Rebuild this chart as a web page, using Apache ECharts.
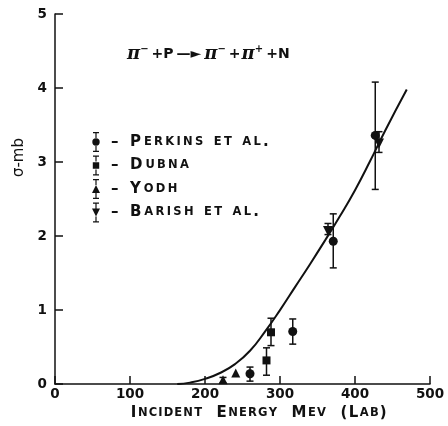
<!DOCTYPE html>
<html>
<head>
<meta charset="utf-8">
<script src="https://cdn.jsdelivr.net/npm/echarts@6/dist/echarts.min.js"></script>
<style>
  html, body { margin: 0; padding: 0; background: #fff; }
  #chart { width: 448px; height: 426px; }
</style>
</head>
<body>
<div id="chart"></div>
<script>
// values: [energy MeV, sigma mb, low, high]
const perkins = [[260, 0.14, 0.04, 0.23], [317, 0.71, 0.54, 0.88], [371, 1.93, 1.57, 2.30], [427, 3.36, 2.63, 4.08]];
const dubna = [[282, 0.32, 0.12, 0.49], [288, 0.70, 0.52, 0.89]];
const yodh = [[224, 0.06, 0.02, 0.09], [241, 0.15, 0.15, 0.15]];
const barish = [[364, 2.07, 2.02, 2.17], [432, 3.25, 3.13, 3.41]];
const theory = [[163, 0], [180, 0.02], [200, 0.07], [220, 0.15], [240, 0.27], [260, 0.45], [280, 0.71],
  [300, 1.00], [320, 1.31], [340, 1.62], [360, 1.94], [380, 2.27], [400, 2.62], [420, 3.01], [440, 3.42], [469, 3.98]];
const xTicks = [0, 100, 200, 300, 400, 500];
const yTicks = [0, 1, 2, 3, 4, 5];

const FONT = 'DejaVu Sans';
const ink = '#111';
const THIN = '\u2009';
const HAIR = '\u200A';

// turn "Perkins et al." into letter-spaced small caps rich text
function smallCaps(text, gap) {
  let out = '';
  let cur = '';
  let mode = '';
  for (const ch of text) {
    const m = (ch >= 'a' && ch <= 'z') ? 'b' : 'a';
    if (m !== mode && cur) { out += `{${mode}|${cur}}`; cur = ''; }
    mode = m;
    cur += ch.toUpperCase() + gap;
  }
  if (cur) out += `{${mode}|${cur}}`;
  return out;
}

const capsRich = {
  a: { fontFamily: FONT, fontSize: 15, fontWeight: 'bold', color: ink },
  b: { fontFamily: FONT, fontSize: 11.5, fontWeight: 'bold', color: ink }
};

const stemTop = 'M4.4,0h1.2v6h-1.2Z';
const stemBot = 'M4.4,14h1.2v6h-1.2Z';
const caps = 'M2,0h6v1.3h-6ZM2,18.7h6v1.3h-6Z';
const icons = {
  'Perkins et al.': 'path://' + caps + stemTop + stemBot + 'M1.3,10a3.7,3.7 0 1,0 7.4,0a3.7,3.7 0 1,0 -7.4,0Z',
  'Dubna': 'path://' + caps + stemTop + stemBot + 'M1.8,6.8h6.4v6.4h-6.4Z',
  'Yodh': 'path://' + caps + stemTop + stemBot + 'M5,6L9,14H1Z',
  'Barish et al.': 'path://' + caps + stemTop + stemBot + 'M1,6H9L5,14Z'
};

function errorBars(name, data) {
  return {
    name: name + ' err',
    type: 'custom',
    data: data,
    silent: true,
    z: 3,
    renderItem: (params, api) => {
      const x = api.value(0);
      const lo = api.coord([x, api.value(2)]);
      const hi = api.coord([x, api.value(3)]);
      if (Math.abs(hi[1] - lo[1]) < 1) return null;
      const w = 3.5;
      const style = { stroke: ink, lineWidth: 1.5 };
      return {
        type: 'group',
        children: [
          { type: 'line', shape: { x1: lo[0], y1: lo[1], x2: hi[0], y2: hi[1] }, style },
          { type: 'line', shape: { x1: lo[0] - w, y1: lo[1], x2: lo[0] + w, y2: lo[1] }, style },
          { type: 'line', shape: { x1: hi[0] - w, y1: hi[1], x2: hi[0] + w, y2: hi[1] }, style }
        ]
      };
    }
  };
}

function points(name, data, symbol, size) {
  return {
    name: name,
    type: 'scatter',
    data: data.map((d) => [d[0], d[1]]),
    symbol: symbol,
    symbolSize: size,
    itemStyle: { color: ink, opacity: 1 },
    z: 4
  };
}

const chart = echarts.init(document.getElementById('chart'), null, { renderer: 'canvas' });

chart.setOption({
  backgroundColor: '#fff',
  animation: false,
  textStyle: { fontFamily: FONT, color: ink },
  grid: { left: 55, right: 18, top: 14, bottom: 38 },
  title: {
    text: '{p|π}{s|−}{t|+P}{r|—►}{p|π}{s|−}{t|+}{p|π}{s|+}{t|+N}',
    left: 122,
    top: 39,
    textStyle: {
      rich: {
        p: { fontFamily: 'DejaVu Serif', fontStyle: 'italic', fontWeight: 'bold', fontSize: 18, color: ink },
        s: { fontFamily: FONT, fontWeight: 'bold', fontSize: 10, color: ink, padding: [0, 2, 10, 0] },
        t: { fontFamily: FONT, fontWeight: 'bold', fontSize: 14, color: ink, padding: [0, 1, 0, 1] },
        r: { fontFamily: FONT, fontWeight: 'bold', fontSize: 14, color: ink, padding: [0, 3, 0, 2] }
      }
    }
  },
  legend: {
    orient: 'vertical',
    left: 92,
    top: 132,
    padding: 0,
    itemWidth: 10,
    itemHeight: 20,
    itemGap: 3.5,
    selectedMode: false,
    data: Object.keys(icons).map((name) => ({ name, icon: icons[name] })),
    formatter: (name) => '{a|–}   ' + smallCaps(name, THIN),
    textStyle: { rich: capsRich, padding: [0, 0, 0, 5] }
  },
  graphic: [{
    type: 'text',
    left: 12,
    top: 138,
    rotation: Math.PI / 2,
    style: { text: 'σ-mb', fontFamily: FONT, fontSize: 15, fill: ink }
  }],
  xAxis: {
    type: 'value',
    min: xTicks[0],
    max: xTicks[xTicks.length - 1],
    interval: 100,
    name: smallCaps('Incident  Energy  Mev  (Lab)', HAIR),
    nameLocation: 'middle',
    nameGap: 14,
    nameTextStyle: { rich: capsRich, padding: [0, 0, 0, 34] },
    axisLine: { lineStyle: { color: ink, width: 1.5 } },
    axisTick: { inside: true, length: 8, lineStyle: { color: ink, width: 1.5 } },
    axisLabel: { fontFamily: FONT, fontSize: 13.5, fontWeight: 'bold', color: ink, margin: 3 },
    splitLine: { show: false }
  },
  yAxis: {
    type: 'value',
    min: yTicks[0],
    max: yTicks[yTicks.length - 1],
    interval: 1,
    axisLine: { show: true, lineStyle: { color: ink, width: 1.5 } },
    axisTick: { show: true, inside: true, length: 8, lineStyle: { color: ink, width: 1.5 } },
    axisLabel: { fontFamily: FONT, fontSize: 13.5, fontWeight: 'bold', color: ink, margin: 8 },
    splitLine: { show: false }
  },
  series: [
    {
      name: 'theory',
      type: 'line',
      data: theory,
      smooth: 0.5,
      showSymbol: false,
      silent: true,
      lineStyle: { color: ink, width: 2 },
      z: 2
    },
    errorBars('Perkins et al.', perkins),
    errorBars('Dubna', dubna),
    errorBars('Yodh', yodh),
    errorBars('Barish et al.', barish),
    points('Perkins et al.', perkins, 'circle', 9),
    points('Dubna', dubna, 'rect', 8),
    points('Yodh', yodh, 'triangle', 9),
    points('Barish et al.', barish, 'path://M0,0H10L5,9Z', 10)
  ]
});

window.addEventListener('resize', () => chart.resize());
</script>
</body>
</html>
